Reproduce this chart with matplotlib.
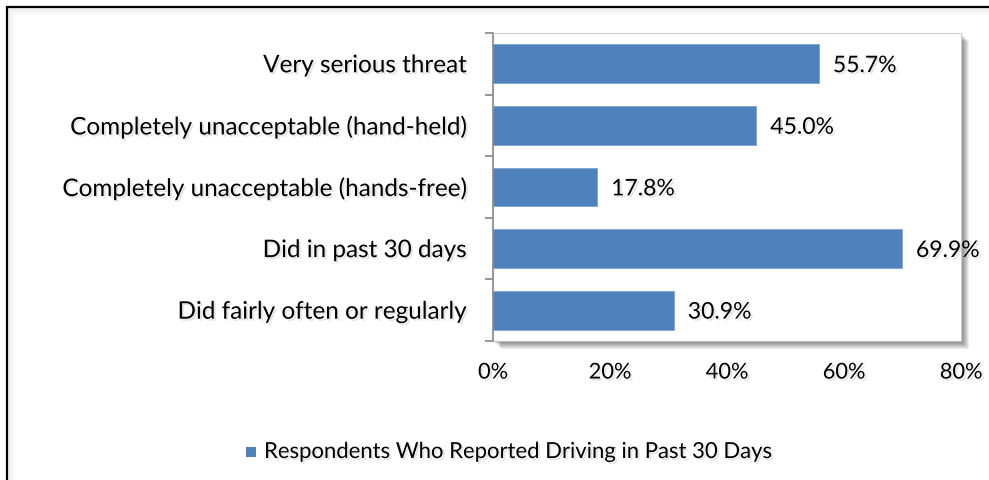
import matplotlib.pyplot as plt
from matplotlib.patches import Rectangle
import matplotlib.patheffects as pe

# data
categories = ['Very serious threat',
              'Completely unacceptable (hand-held)',
              'Completely unacceptable (hands-free)',
              'Did in past 30 days',
              'Did fairly often or regularly']
values = [55.7, 45.0, 17.8, 69.9, 30.9]
xticks = [0, 20, 40, 60, 80]
series_name = 'Respondents Who Reported Driving in Past 30 Days'

W, H = 989, 480
blue = '#4F81BD'
plt.rcParams['font.family'] = ['Lato', 'DejaVu Sans']
fs = 17.5

fig = plt.figure(figsize=(W / 100, H / 100), dpi=100)

def fx(px):
    return px / W

def fy(py):
    return 1 - py / H

# outer black border with soft inner shadow
for i in range(8):
    a = 0.05 * (8 - i) / 8
    fig.patches.append(Rectangle((fx(8 + i), fy(H + 20)), fx(W + 20), fy(8 + i) - fy(H + 20),
                                 transform=fig.transFigure, fill=False,
                                 edgecolor=(0, 0, 0, a), lw=1.0, zorder=-3))
fig.patches.append(Rectangle((fx(7), fy(H + 20)), fx(W + 20), fy(7) - fy(H + 20),
                             transform=fig.transFigure, fill=False,
                             edgecolor='black', lw=1.6, zorder=-3))

# plot area
L, R, T, B = 493, 961, 33, 341
# drop shadow behind the plot area
for i in range(7):
    off = 2 + i
    fig.patches.append(Rectangle((fx(L + off), fy(B + off)), fx(R - L), fy(T + off) - fy(B + off),
                                 transform=fig.transFigure, facecolor=(0, 0, 0, 0.07),
                                 edgecolor='none', zorder=-2))
fig.patches.append(Rectangle((fx(L), fy(B)), fx(R - L), fy(T) - fy(B),
                             transform=fig.transFigure, facecolor='white',
                             edgecolor='none', zorder=-1))

ax = fig.add_axes([fx(L), fy(B), fx(R - L), fy(T) - fy(B)])
ax.set_zorder(2)
ax.set_facecolor('white')

shadow = [pe.SimplePatchShadow(offset=(1.5, -1.5), shadow_rgbFace='#999999', alpha=0.25), pe.Normal()]

y = list(range(len(categories)))
ax.barh(y, values, height=0.63, color=blue, edgecolor='#7FA3D1', lw=0.6, zorder=2)
for yi, v in zip(y, values):
    ax.text(v + 2.4, yi + 0.03, f'{v:.1f}%', va='center', ha='left', fontsize=16.5,
            color='black', path_effects=shadow, clip_on=False)

ax.set_xlim(0, 80)
ax.set_ylim(len(categories) - 0.5, -0.5)
ax.set_xticks(xticks)
ax.set_xticklabels([f'{t}%' for t in xticks], fontsize=15.7)
ax.tick_params(axis='x', length=0, pad=15.5)
ax.set_yticks(y)
ax.set_yticklabels(categories, fontsize=fs)
ax.tick_params(axis='y', length=0, pad=19)
for lbl in ax.get_xticklabels() + ax.get_yticklabels():
    lbl.set_path_effects(shadow)
# boundary ticks between categories
ax.set_yticks([i - 0.5 for i in range(len(categories) + 1)], minor=True)
ax.tick_params(axis='y', which='minor', length=6, width=1.2, color='#868686', direction='out')

for s in ['top', 'right']:
    ax.spines[s].set_color('#D0D0D0')
    ax.spines[s].set_linewidth(0.8)
ax.spines['bottom'].set_color('#C0C0C0')
ax.spines['left'].set_color('#868686')
ax.spines['left'].set_linewidth(1.2)

# legend
fig.patches.append(Rectangle((fx(246), fy(457)), fx(10), fy(447) - fy(457),
                             transform=fig.transFigure, facecolor=blue, edgecolor='none'))
fig.text(fx(264), fy(452), series_name, ha='left', va='center', fontsize=15.9,
         path_effects=shadow)

fig.savefig('out.png', dpi=100)
